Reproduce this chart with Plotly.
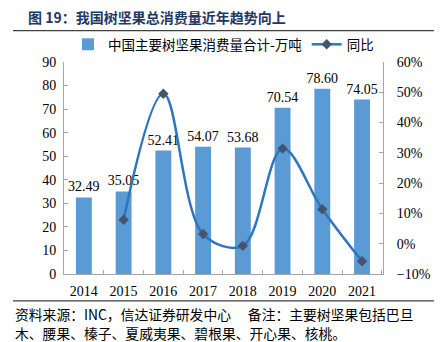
import plotly.graph_objects as go

years = ["2014", "2015", "2016", "2017", "2018", "2019", "2020", "2021"]
consumption = [32.49, 35.05, 52.41, 54.07, 53.68, 70.54, 78.60, 74.05]
yoy_years = ["2015", "2016", "2017", "2018", "2019", "2020", "2021"]
yoy = [7.9, 49.5, 3.2, -0.7, 31.4, 11.4, -5.8]
bar_labels = ["32.49", "35.05", "52.41", "54.07", "53.68", "70.54", "78.60", "74.05"]

W, H = 447, 342
L, R, T, B = 64, 383, 61.5, 274

def px(x):
    return (x - L) / (R - L)

def py(y):
    return (B - y) / (B - T)

serif = "Liberation Serif, Times New Roman, serif"
cjk = "Noto Sans CJK SC"

fig = go.Figure()
fig.add_trace(go.Bar(
    x=years, y=consumption, name="中国主要树坚果消费量合计-万吨",
    marker=dict(color="#5B9BD5", line=dict(width=0)), width=0.4,
    text=bar_labels, textposition="outside", cliponaxis=False, constraintext="none",
    textfont=dict(family=serif, size=14, color="#000000"),
))
fig.add_trace(go.Scatter(
    x=yoy_years, y=yoy, name="同比", yaxis="y2", mode="lines+markers",
    line=dict(color="#2E75C0", width=2.5, shape="spline", smoothing=1.0),
    marker=dict(symbol="diamond", size=8, color="#44546A"),
))

axis_col = "#A6A6A6"
fig.update_layout(
    width=W, height=H, autosize=False,
    margin=dict(l=L, r=W - R, t=T, b=H - B),
    paper_bgcolor="white", plot_bgcolor="white",
    showlegend=True,
    legend=dict(orientation="h", x=0.5, xanchor="center", y=py(44), yanchor="middle",
                font=dict(family=cjk, size=13.5, color="#000"), itemwidth=30,
                bgcolor="rgba(0,0,0,0)", tracegroupgap=0),
    xaxis=dict(showline=True, linecolor=axis_col, linewidth=1, ticks="inside",
               tickson="boundaries", ticklen=4, tickcolor=axis_col,
               tickfont=dict(family=serif, size=14, color="#000"), showgrid=False,
               ticklabelstandoff=4),
    yaxis=dict(range=[0, 90], dtick=10, showline=True, linecolor=axis_col, linewidth=1,
               ticks="inside", ticklen=4, tickcolor=axis_col, showgrid=False, zeroline=False,
               tickfont=dict(family=serif, size=14, color="#000"), ticklabelstandoff=4),
    yaxis2=dict(range=[-10, 60], dtick=10, overlaying="y", side="right", showline=True,
                linecolor=axis_col, linewidth=1, ticks="inside", ticklen=4, tickcolor=axis_col,
                showgrid=False, zeroline=False, ticksuffix="%",
                tickfont=dict(family=serif, size=14, color="#000"), ticklabelstandoff=10),
    bargap=0.6,
)

fig.add_annotation(text="<b>图 19：我国树坚果总消费量近年趋势向上</b>", xref="paper", yref="paper",
                   x=px(26), y=py(16), xanchor="left", yanchor="middle", showarrow=False,
                   font=dict(family=cjk, size=14, color="#1F3864"))
fig.add_shape(type="line", xref="paper", yref="paper", x0=px(13), x1=px(434), y0=py(30), y1=py(30),
              line=dict(color="#404040", width=1.2))
fig.add_shape(type="line", xref="paper", yref="paper", x0=px(13), x1=px(434), y0=py(301), y1=py(301),
              line=dict(color="#404040", width=1.2))
fig.add_annotation(text="资料来源：INC，信达证券研发中心　 备注：主要树坚果包括巴旦", xref="paper", yref="paper",
                   x=px(13), y=py(314), xanchor="left", yanchor="middle", showarrow=False,
                   font=dict(family=cjk, size=13.8, color="#000"))
fig.add_annotation(text="木、腰果、榛子、夏威夷果、碧根果、开心果、核桃。", xref="paper", yref="paper",
                   x=px(13), y=py(333), xanchor="left", yanchor="middle", showarrow=False,
                   font=dict(family=cjk, size=13.8, color="#000"))

fig.write_html("out.html")
